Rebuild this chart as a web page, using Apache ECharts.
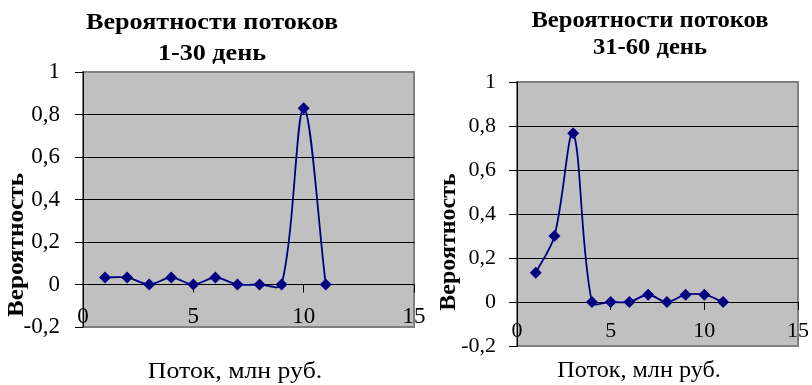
<!DOCTYPE html>
<html>
<head>
<meta charset="utf-8">
<script src="https://cdn.jsdelivr.net/npm/echarts@6/dist/echarts.min.js"></script>
<style>
  html, body { margin: 0; padding: 0; background: #fff; }
  #chart { width: 812px; height: 385px; }
</style>
</head>
<body>
<div id="chart"></div>
<script>
// Flow sizes, mln rub.
const flows = [1, 2, 3, 4, 5, 6, 7, 8, 9, 10, 11];
// Probabilities of each flow, days 1-30
const prob1to30 = [0.033, 0.033, 0, 0.033, 0, 0.033, 0, 0, 0, 0.83, 0];
// Probabilities of each flow, days 31-60
const prob31to60 = [0.133, 0.3, 0.767, 0, 0, 0, 0.033, 0, 0.033, 0.033, 0];

// Axis ranges
const xRange = { min: 0, max: 15, step: 5 };
const yRange = { min: -0.2, max: 1, step: 0.2 };

const titleLines = [
  ['Вероятности потоков', '1-30 день'],
  ['Вероятности потоков', '31-60 день']
];
const yAxisTitle = 'Вероятность';
const xAxisTitle = 'Поток, млн руб.';

const FONT = '"Liberation Serif", "Times New Roman", serif';
const NAVY = '#000080';

// Layout of the two panels
const panels = [
  { grid: { left: 83, top: 72, width: 331, height: 255 },
    tickFont: 23, yLabelMargin: 23, xLabelMargin: 21,
    title: { x: 212, y1: 23, y2: 54, size: 24, scaleX: 1.09 },
    yName: { x: 17, y: 245, size: 24, scaleX: 1.05 },
    xName: { x: 235, y: 372, size: 23, scaleX: 1.12 } },
  { grid: { left: 517, top: 82, width: 286, height: 264 },
    tickFont: 22, yLabelMargin: 21, xLabelMargin: 18,
    title: { x: 650, y1: 21, y2: 48, size: 23, scaleX: 1.07 },
    yName: { x: 449, y: 242, size: 24, scaleX: 1.0 },
    xName: { x: 639, y: 371, size: 23, scaleX: 1.05 } }
];

function pairs(values) {
  return flows.map((x, i) => [x, values[i]]);
}

function makeXAxis(idx) {
  const p = panels[idx];
  // the flow axis sits on the zero line of the probability axis
  const zeroOffset = p.grid.height * (0 - yRange.min) / (yRange.max - yRange.min);
  return {
    type: 'value', gridIndex: idx, position: 'bottom',
    min: xRange.min, max: xRange.max, interval: xRange.step,
    offset: -zeroOffset,
    axisLine: { onZero: false, lineStyle: { color: '#000', width: 1 } },
    axisTick: { show: true, inside: false, length: 8, lineStyle: { color: '#000' } },
    axisLabel: { color: '#000', fontFamily: FONT, fontSize: p.tickFont, margin: p.xLabelMargin,
                 showMinLabel: true, showMaxLabel: true, hideOverlap: false },
    splitLine: { show: false }
  };
}

function makeYAxis(idx) {
  const p = panels[idx];
  return {
    type: 'value', gridIndex: idx,
    min: yRange.min, max: yRange.max, interval: yRange.step,
    axisLine: { show: true, lineStyle: { color: '#000', width: 1 } },
    axisTick: { show: true, length: 8, lineStyle: { color: '#000' } },
    axisLabel: {
      color: '#000', fontFamily: FONT, fontSize: p.tickFont, margin: p.yLabelMargin,
      showMinLabel: true, showMaxLabel: true,
      formatter: v => String(+v.toFixed(1)).replace('.', ',')
    },
    splitLine: { show: true, showMinLine: false, showMaxLine: false,
                 lineStyle: { color: '#000', width: 1 } }
  };
}

// Smoothed curve: cubic Bezier segments through the points. Tangents follow the
// neighbouring points and are weighted by segment lengths, all in pixel space
// obtained from the chart's own scales.
function makeCurve(values, idx) {
  const pts = pairs(values);
  const dist = (a, b) => Math.hypot(b[0] - a[0], b[1] - a[1]);
  return {
    type: 'custom', xAxisIndex: idx, yAxisIndex: idx,
    data: pts, z: 4, silent: true, clip: true,
    renderItem: function (params, api) {
      const i = params.dataIndex;
      if (i >= pts.length - 1) return null;
      const P = k => api.coord(pts[Math.max(0, Math.min(pts.length - 1, k))]);
      const p0 = P(i - 1), p1 = P(i), p2 = P(i + 1), p3 = P(i + 2);
      const d01 = dist(p0, p1), d12 = dist(p1, p2), d23 = dist(p2, p3);
      const f1 = (d01 + d12) > 0 ? d12 / (d01 + d12) / 3 : 0;
      const f2 = (d12 + d23) > 0 ? d12 / (d12 + d23) / 3 : 0;
      return {
        type: 'bezierCurve',
        shape: {
          x1: p1[0], y1: p1[1], x2: p2[0], y2: p2[1],
          cpx1: p1[0] + (p2[0] - p0[0]) * f1, cpy1: p1[1] + (p2[1] - p0[1]) * f1,
          cpx2: p2[0] - (p3[0] - p1[0]) * f2, cpy2: p2[1] - (p3[1] - p1[1]) * f2
        },
        style: { stroke: NAVY, lineWidth: 1.8, fill: null }
      };
    }
  };
}

function makeMarkers(values, idx) {
  return {
    type: 'scatter', xAxisIndex: idx, yAxisIndex: idx,
    data: pairs(values),
    symbol: 'diamond', symbolSize: 12,
    itemStyle: { color: NAVY, opacity: 1 },
    z: 5
  };
}

const graphics = [];
panels.forEach((p, idx) => {
  const t = p.title;
  [[titleLines[idx][0], t.y1], [titleLines[idx][1], t.y2]].forEach(([txt, y]) => {
    graphics.push({ type: 'text', x: t.x, y: y, scaleX: t.scaleX,
      style: { text: txt, font: 'bold ' + t.size + 'px ' + FONT, fill: '#000',
               align: 'center', verticalAlign: 'middle' } });
  });
  graphics.push({ type: 'text', x: p.yName.x, y: p.yName.y, rotation: Math.PI / 2,
    scaleX: p.yName.scaleX,
    style: { text: yAxisTitle, font: 'bold ' + p.yName.size + 'px ' + FONT, fill: '#000',
             align: 'center', verticalAlign: 'middle' } });
  graphics.push({ type: 'text', x: p.xName.x, y: p.xName.y, scaleX: p.xName.scaleX,
    style: { text: xAxisTitle, font: p.xName.size + 'px ' + FONT, fill: '#000',
             align: 'center', verticalAlign: 'middle' } });
});

const chart = echarts.init(document.getElementById('chart'), null, { renderer: 'canvas' });
chart.setOption({
  backgroundColor: '#fff',
  animation: false,
  grid: panels.map(p => Object.assign({
    show: true, backgroundColor: '#c0c0c0', borderColor: '#808080', borderWidth: 2
  }, p.grid)),
  xAxis: [makeXAxis(0), makeXAxis(1)],
  yAxis: [makeYAxis(0), makeYAxis(1)],
  series: [
    makeCurve(prob1to30, 0), makeMarkers(prob1to30, 0),
    makeCurve(prob31to60, 1), makeMarkers(prob31to60, 1)
  ],
  graphic: graphics
});
</script>
</body>
</html>
